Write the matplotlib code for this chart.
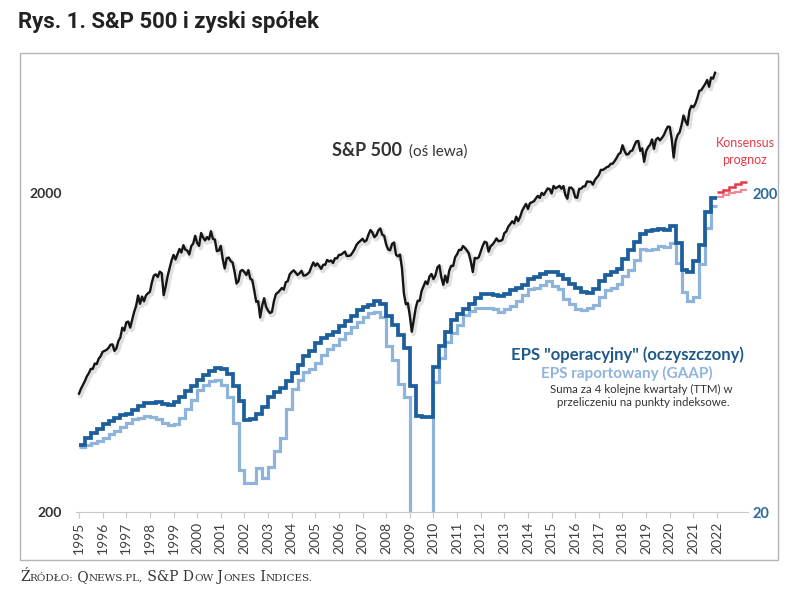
import numpy as np
import matplotlib
matplotlib.use('Agg')
import matplotlib.pyplot as plt
import matplotlib.patheffects as pe
from matplotlib.patches import Rectangle
from matplotlib.ticker import NullLocator

W, H = 803, 593

# S&P 500, monthly closes, Jan 1995 .. Dec 2021 (left axis)
sp500 = [
    470, 487, 501, 515, 533, 545, 562, 562, 584, 582, 605, 616,
    636, 640, 645, 654, 669, 671, 640, 652, 687, 705, 757, 741,
    786, 791, 757, 801, 848, 885, 954, 899, 947, 915, 955, 970,
    980, 1049, 1102, 1112, 1091, 1134, 1121, 957, 1017, 1099, 1164, 1229,
    1280, 1238, 1286, 1335, 1302, 1373, 1329, 1320, 1283, 1363, 1389, 1469,
    1394, 1366, 1499, 1452, 1421, 1455, 1431, 1518, 1437, 1429, 1315, 1320,
    1366, 1240, 1160, 1249, 1256, 1224, 1211, 1134, 1041, 1060, 1139, 1148,
    1130, 1107, 1147, 1077, 1067, 990, 912, 916, 815, 886, 936, 880,
    856, 841, 848, 917, 964, 975, 990, 1008, 996, 1051, 1058, 1112,
    1131, 1145, 1126, 1107, 1121, 1141, 1102, 1104, 1115, 1130, 1174, 1212,
    1181, 1204, 1181, 1157, 1192, 1191, 1234, 1220, 1229, 1207, 1249, 1248,
    1280, 1281, 1295, 1311, 1270, 1270, 1277, 1304, 1336, 1378, 1401, 1418,
    1438, 1407, 1421, 1482, 1531, 1503, 1455, 1474, 1527, 1549, 1481, 1468,
    1379, 1331, 1323, 1386, 1400, 1280, 1267, 1283, 1165, 969, 896, 903,
    826, 735, 798, 873, 919, 919, 987, 1021, 1057, 1036, 1096, 1115,
    1074, 1104, 1169, 1187, 1089, 1031, 1102, 1049, 1141, 1183, 1181, 1258,
    1286, 1327, 1326, 1364, 1345, 1321, 1292, 1219, 1131, 1253, 1247, 1258,
    1312, 1366, 1408, 1398, 1310, 1362, 1379, 1407, 1441, 1412, 1416, 1426,
    1498, 1515, 1569, 1598, 1631, 1606, 1686, 1633, 1682, 1757, 1806, 1848,
    1783, 1859, 1872, 1884, 1924, 1960, 1931, 2003, 1972, 2018, 2068, 2059,
    1995, 2105, 2068, 2086, 2107, 2063, 2104, 1972, 1920, 2079, 2080, 2044,
    1940, 1932, 2060, 2065, 2097, 2099, 2174, 2171, 2168, 2126, 2199, 2239,
    2279, 2364, 2363, 2384, 2412, 2423, 2470, 2472, 2519, 2575, 2648, 2674,
    2824, 2714, 2641, 2648, 2705, 2718, 2816, 2902, 2914, 2712, 2760, 2507,
    2704, 2784, 2834, 2946, 2752, 2942, 2980, 2926, 2977, 3038, 3141, 3231,
    3226, 2954, 2585, 2912, 3044, 3100, 3271, 3500, 3363, 3270, 3622, 3756,
    3714, 3811, 3973, 4181, 4204, 4298, 4395, 4523, 4308, 4605, 4567, 4766,
]

# EPS TTM, quarterly steps starting 1995.0 (right axis)
op_eps = [
    32.5, 34.0, 35.5, 36.5,
    37.7, 38.6, 39.3, 40.2,
    40.6, 41.9, 43.0, 44.0,
    44.0, 44.2, 43.6, 43.3,
    44.3, 45.8, 47.9, 49.8,
    51.7, 53.6, 55.4, 56.5,
    56.1, 54.0, 49.5, 44.7,
    38.9, 39.0, 40.7, 42.8,
    46.0, 47.4, 49.0, 51.4,
    54.7, 57.9, 61.5, 64.0,
    67.7, 70.1, 72.0, 73.1,
    76.5, 79.6, 82.6, 86.2,
    87.7, 89.3, 91.5, 89.5,
    82.5, 77.0, 71.6, 65.5,
    49.5, 40.0, 39.6, 39.8,
    56.9, 66.5, 73.5, 80.0,
    83.8, 86.5, 89.9, 93.5,
    96.4, 96.4, 95.9, 95.0,
    96.8, 99.2, 100.4, 102.9,
    107.3, 108.8, 111.2, 113.4,
    113.0, 110.9, 107.8, 103.5,
    100.5, 98.0, 96.9, 100.0,
    106.3, 110.5, 113.3, 115.2,
    124.5, 132.4, 140.5, 148.4,
    151.6, 153.1, 154.1, 152.9,
    157.1, 139.5, 115.0, 113.0,
    122.4, 137.6, 174.7, 193.5,
]
gaap_eps = [
    32.0, 32.5, 33.0, 33.5,
    34.0, 35.0, 36.0, 37.0,
    38.0, 39.0, 39.5, 40.0,
    39.7, 39.0, 38.0, 37.5,
    37.7, 39.5, 42.0, 45.0,
    48.2, 50.0, 51.5, 52.0,
    50.0, 46.0, 38.0, 27.0,
    24.7, 24.7, 27.5, 25.5,
    27.6, 31.0, 34.0, 42.0,
    48.7, 52.0, 55.0, 56.0,
    58.6, 62.0, 65.0, 67.0,
    69.9, 73.0, 76.0, 79.0,
    81.5, 84.0, 85.0, 82.0,
    66.2, 60.0, 50.5, 45.9,
    14.9, 7.5, 6.9, 13.0,
    51.0, 60.9, 68.0, 73.0,
    77.4, 83.0, 85.5, 87.0,
    87.0, 87.0, 86.5, 85.0,
    86.5, 88.5, 92.0, 96.0,
    100.2, 101.0, 103.0, 106.0,
    102.3, 100.0, 93.0, 90.0,
    86.5, 86.0, 87.0, 89.0,
    94.6, 99.0, 101.0, 104.0,
    109.9, 115.0, 123.0, 134.0,
    132.4, 134.0, 136.0, 135.0,
    139.5, 121.0, 98.0, 92.0,
    94.1, 120.0, 155.0, 182.0,
]
# consensus forecasts, quarterly from 2022.0
op_forecast = [201, 205, 209, 213, 217]
gaap_forecast = [194, 197, 200, 202, 205]

years = list(range(1995, 2023))

C_SP = '#151515'
C_OP = '#1c5f9c'
C_GAAP = '#8fb4dc'
C_RED = '#e23a48'
C_RED2 = '#f08a94'
C_TXT = '#333333'

plt.rcParams['font.family'] = ['Lato', 'DejaVu Sans']


def fx(px):
    return px / W


def fy(py):
    return 1 - py / H


fig = plt.figure(figsize=(W / 100, H / 100), dpi=100)
fig.patches.append(Rectangle((fx(20), fy(560)), fx(778) - fx(20), fy(53) - fy(560),
                             transform=fig.transFigure, fill=False,
                             edgecolor='#b5b5b5', linewidth=1.0))

ax = fig.add_axes([fx(76), fy(512), fx(748) - fx(76), fy(65) - fy(512)])
ax2 = ax.twinx()

sp_x = 1995 + np.arange(len(sp500)) / 12.0
ax.plot(sp_x, sp500, color=C_SP, lw=1.7, solid_joinstyle='round',
        path_effects=[pe.SimpleLineShadow(offset=(1.2, -1.5), shadow_color='#999999',
                                          alpha=0.3, linewidth=3.5),
                      pe.Normal()])

edges = 1995 + 0.25 * np.arange(len(op_eps) + 1)
ax2.stairs(gaap_eps, edges, baseline=None, color=C_GAAP, lw=2.3)
ax2.stairs(op_eps, edges, baseline=None, color=C_OP, lw=2.7)

f_edges = 2022 + 0.25 * np.arange(len(op_forecast) + 1)
ax2.stairs(gaap_forecast, f_edges, baseline=None, color=C_RED2, lw=1.6, clip_on=False)
ax2.stairs(op_forecast, f_edges, baseline=None, color=C_RED, lw=1.8, clip_on=False)

slope = (717 - 79) / 27.0
ax.set_xlim(1995 - 3 / slope, 1995 + (748 - 79) / slope)

ax.set_yscale('log')
ax.set_ylim(200, 5040)
ax.set_yticks([200, 2000], labels=['200', '2000'])
ax.yaxis.set_minor_locator(NullLocator())
ax2.set_yscale('log')
ax2.set_ylim(20, 504)
ax2.set_yticks([20, 200], labels=['20', '200'])
ax2.yaxis.set_minor_locator(NullLocator())

ax.set_xticks(years, labels=[str(y) for y in years], rotation=90)
ax.tick_params(axis='x', direction='out', length=4, color='#c8c8c8',
               labelsize=10, labelcolor='#404040', pad=3)
ax.tick_params(axis='y', length=0, pad=10, labelsize=10, labelcolor=C_TXT)
ax2.tick_params(axis='y', length=0, pad=3, labelsize=10.5, labelcolor='#2b6a9b')
for lab in ax.get_yticklabels() + ax2.get_yticklabels():
    lab.set_fontweight('bold')

for s in ['left', 'right', 'top']:
    ax.spines[s].set_visible(False)
ax.spines['bottom'].set_color('#c8c8c8')
for s in ax2.spines.values():
    s.set_visible(False)

# labels
fig.text(fx(18), fy(22), 'Rys. 1. S&P 500 i zyski spółek', fontsize=16,
         fontweight='bold', family=['Roboto', 'DejaVu Sans'], color='#222222', va='center')
fig.text(fx(332), fy(151), 'S&P 500', fontsize=13, fontweight='bold', color=C_TXT, va='center')
fig.text(fx(409), fy(152), '(oś lewa)', fontsize=11, color=C_TXT, va='center')
fig.text(fx(745), fy(143), 'Konsensus', fontsize=9, color=C_RED, ha='center', va='center')
fig.text(fx(745), fy(160), 'prognoz', fontsize=9, color=C_RED, ha='center', va='center')
fig.text(fx(627), fy(355), 'EPS "operacyjny" (oczyszczony)', fontsize=12, fontweight='bold',
         color='#1f5a8c', ha='center', va='center')
fig.text(fx(627), fy(373), 'EPS raportowany (GAAP)', fontsize=11, fontweight='bold',
         color=C_GAAP, ha='center', va='center')
fig.text(fx(641), fy(389), 'Suma za 4 kolejne kwartały (TTM) w', fontsize=8.3,
         color=C_TXT, ha='center', va='center')
fig.text(fx(643), fy(403), 'przeliczeniu na punkty indeksowe.', fontsize=8.3,
         color=C_TXT, ha='center', va='center')


def small_caps(x_px, y_px, text, big, small):
    renderer = fig.canvas.get_renderer()
    runs = []
    for ch in text:
        low = ch.islower() or ch in '.,:'
        if runs and runs[-1][1] == low:
            runs[-1][0] += ch
        else:
            runs.append([ch, low])
    x = x_px
    for part, low in runs:
        t = fig.text(fx(x), fy(y_px), part.upper() if low else part,
                     fontsize=small if low else big, family='DejaVu Serif',
                     color='#333333', va='baseline')
        x += t.get_window_extent(renderer).width


small_caps(20, 581, 'Źródło: Qnews.pl, S&P Dow Jones Indices.', 10, 7.5)

fig.savefig('out.png', dpi=100)
